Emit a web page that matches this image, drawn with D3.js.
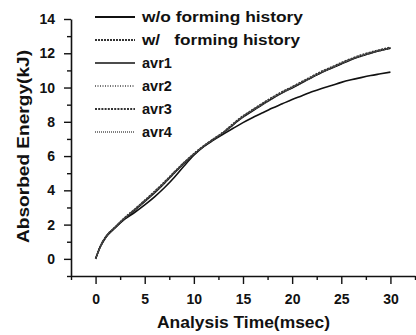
<!DOCTYPE html>
<html><head><meta charset="utf-8">
<script src="https://cdn.jsdelivr.net/npm/d3@7"></script>
<style>
html,body{margin:0;padding:0;background:#fff;}
svg{display:block;font-family:"Liberation Sans",Arial,sans-serif;font-weight:bold;}
</style></head><body>
<svg id="c" width="416" height="335"></svg>
<script>
const time = [0,0.5,1,2,3,4,5,6,7,8,9,10,11,12,13,14,15,16,17,18,19,20,21,22,23,24,25,26,27,28,29,30];
const woForming = [0,0.72,1.22,1.82,2.33,2.72,3.15,3.62,4.15,4.75,5.42,6.05,6.55,6.93,7.28,7.62,7.95,8.25,8.53,8.8,9.05,9.3,9.52,9.75,9.95,10.12,10.3,10.45,10.58,10.7,10.8,10.9];
const wForming = [0,0.75,1.25,1.85,2.4,2.88,3.38,3.9,4.45,5.03,5.6,6.12,6.58,6.98,7.37,7.85,8.3,8.68,9.05,9.4,9.72,10.0,10.3,10.6,10.9,11.15,11.4,11.65,11.85,12.02,12.17,12.3];
const avr1 = [0,0.74,1.24,1.83,2.37,2.84,3.33,3.84,4.4,4.99,5.56,6.1,6.56,6.97,7.35,7.82,8.26,8.64,9.0,9.35,9.68,9.97,10.27,10.58,10.87,11.12,11.37,11.62,11.82,12.0,12.15,12.28];
const avr2 = [0,0.76,1.26,1.86,2.42,2.9,3.4,3.92,4.47,5.05,5.61,6.13,6.59,7.0,7.39,7.88,8.33,8.7,9.07,9.42,9.74,10.03,10.33,10.63,10.93,11.18,11.43,11.67,11.88,12.05,12.2,12.33];
const avr3 = [0,0.75,1.27,1.87,2.43,2.91,3.42,3.94,4.49,5.07,5.63,6.14,6.6,7.01,7.4,7.9,8.35,8.72,9.09,9.44,9.76,10.05,10.35,10.65,10.95,11.2,11.45,11.69,11.9,12.07,12.22,12.35];
const avr4 = [0,0.73,1.23,1.84,2.38,2.86,3.36,3.87,4.42,5.0,5.58,6.11,6.57,6.98,7.36,7.84,8.28,8.66,9.02,9.37,9.7,9.99,10.29,10.6,10.89,11.14,11.39,11.64,11.84,12.01,12.16,12.29];

const seriesNames = ["w/o forming history","w/\u00a0\u00a0 forming history","avr1","avr2","avr3","avr4"];
const seriesValues = [woForming, wForming, avr1, avr2, avr3, avr4];
const dashes = [null, "2,1", null, "1,1.5", "2,1.2", "1,1"];
const widths = [1.6, 1.6, 1.3, 1.4, 1.5, 1.4];
const strokes = ["#111","#333","#111","#444","#333","#555"];

const xTicks = [0,5,10,15,20,25,30];
const yTicks = [0,2,4,6,8,10,12,14];

const svg = d3.select("#c");
const x = d3.scaleLinear().domain([-2.5,32.5]).range([71,415]);
const y = d3.scaleLinear().domain([-1,14]).range([276,19]);

// x axis
const xAxis = svg.append("g").attr("transform","translate(0,276)")
  .call(d3.axisBottom(x).tickValues(xTicks).tickSize(8).tickSizeOuter(0).tickPadding(5));
svg.append("g").attr("transform","translate(0,276)")
  .call(d3.axisBottom(x).tickValues(d3.range(-2.5,33,5)).tickSize(4).tickFormat("").tickSizeOuter(0))
  .select(".domain").remove();
// y axis
const yAxis = svg.append("g").attr("transform","translate(71,0)")
  .call(d3.axisLeft(y).tickValues(yTicks).tickSize(7).tickSizeOuter(0).tickPadding(9));
svg.append("g").attr("transform","translate(71,0)")
  .call(d3.axisLeft(y).tickValues(d3.range(-1,14,2)).tickSize(4).tickFormat("").tickSizeOuter(0))
  .select(".domain").remove();

svg.selectAll(".tick line").attr("stroke","#111").attr("stroke-width",1.4);
svg.selectAll(".domain").attr("stroke","#111").attr("stroke-width",1.6);
svg.selectAll(".tick text").attr("font-size","14px").attr("font-weight","bold")
  .attr("font-family","'Liberation Sans',Arial,sans-serif").attr("fill","#111");
xAxis.selectAll(".tick text").attr("dy","1.05em");

// axis titles
svg.append("text").attr("x",243.5).attr("y",328).attr("text-anchor","middle")
  .attr("font-size","16px").attr("fill","#111").attr("textLength",173).attr("lengthAdjust","spacingAndGlyphs")
  .text("Analysis Time(msec)");
svg.append("text").attr("transform","translate(29,146.5) rotate(-90)").attr("text-anchor","middle")
  .attr("font-size","16px").attr("fill","#111").attr("textLength",193).attr("lengthAdjust","spacingAndGlyphs")
  .text("Absorbed Energy(kJ)");

// lines
const line = d3.line().x((d,i)=>x(time[i])).y(d=>y(d)).curve(d3.curveMonotoneX);
seriesValues.forEach((vals,k)=>{
  svg.append("path").datum(vals).attr("d",line).attr("fill","none")
    .attr("stroke",strokes[k]).attr("stroke-width",widths[k])
    .attr("stroke-dasharray",dashes[k]);
});

// legend
const legTextLen = [161,158,null,null,null,null];
seriesNames.forEach((name,k)=>{
  const ly = 17 + 23*k;
  svg.append("line").attr("x1",95).attr("x2",135).attr("y1",ly).attr("y2",ly)
    .attr("stroke",strokes[k]).attr("stroke-width",widths[k]+0.3).attr("stroke-dasharray",dashes[k]);
  const t = svg.append("text").attr("x",142).attr("y",ly+5).attr("font-size","14.5px").attr("fill","#111").text(name);
  if(legTextLen[k]) t.attr("textLength",legTextLen[k]).attr("lengthAdjust","spacingAndGlyphs");
});
</script></body></html>
